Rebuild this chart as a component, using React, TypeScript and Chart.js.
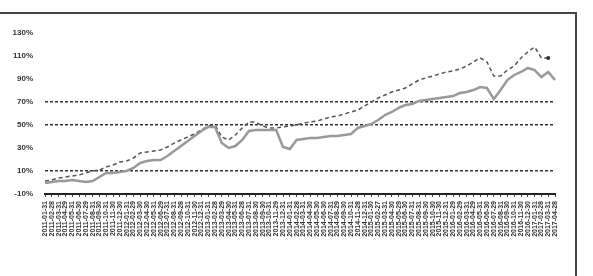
import React, { useEffect, useRef } from "react";
import { Chart, registerables } from "chart.js";

Chart.register(...registerables);

const dates = [
  "2011-01-31","2011-02-28","2011-03-31","2011-04-29","2011-05-31","2011-06-30","2011-07-29","2011-08-31","2011-09-30","2011-10-31","2011-11-30","2011-12-30",
  "2012-01-31","2012-02-29","2012-03-30","2012-04-30","2012-05-31","2012-06-29","2012-07-31","2012-08-31","2012-09-28","2012-10-31","2012-11-30","2012-12-31",
  "2013-01-31","2013-02-28","2013-03-29","2013-04-30","2013-05-31","2013-06-28","2013-07-31","2013-08-30","2013-09-30","2013-10-31","2013-11-29","2013-12-31",
  "2014-01-31","2014-02-28","2014-03-31","2014-04-30","2014-05-30","2014-06-30","2014-07-31","2014-08-29","2014-09-30","2014-10-31","2014-11-28","2014-12-31",
  "2015-01-30","2015-02-27","2015-03-31","2015-04-30","2015-05-29","2015-06-30","2015-07-31","2015-08-31","2015-09-30","2015-10-30","2015-11-30","2015-12-31",
  "2016-01-29","2016-02-29","2016-03-31","2016-04-29","2016-05-31","2016-06-30","2016-07-29","2016-08-31","2016-09-30","2016-10-31","2016-11-30","2016-12-30",
  "2017-01-31","2017-02-28","2017-03-31","2017-04-28"
];

const fundSeries = [
  -0.4, 0.4, 1.3, 1.3, 2.2, 1.3, 0.4, 1.3, 4.8, 8.3, 8.3, 9.1, 10, 12.6, 17, 18.7, 19.6, 19.6, 23, 27.4,
  31.7, 36.1, 40.4, 44.8, 48.3, 48.3, 34.3, 30, 31.7, 37, 44.8, 45.7, 45.7, 45.7, 45.7, 30.9, 29.1, 37, 37.8, 38.7,
  38.7, 39.6, 40.4, 40.4, 41.3, 42.2, 47.4, 49.1, 50.9, 54.3, 58.7, 61.3, 64.8, 67.4, 68.3, 70.9, 71.7, 72.6, 73.5, 74.3,
  75.2, 77.8, 78.7, 80.4, 83, 82.2, 72.6, 80.4, 89.1, 93.5, 96.1, 99.6, 97.8, 91.7, 96.1, 89.1
];

const benchSeries = [
  1.3, 2.2, 3.9, 4.8, 5.7, 6.5, 8.3, 10, 10.9, 13.5, 15.2, 17.8, 18.7, 21.3, 25.7, 26.5, 27.4, 28.3, 30.9, 34.3,
  37, 39.6, 42.2, 45.7, 49.1, 50, 39.6, 37, 41.3, 47.4, 52.6, 52.6, 49.1, 47.4, 47.4, 48.3, 49.1, 50, 51.7, 52.6,
  53.5, 55.2, 57, 57.8, 59.6, 61.3, 63, 66.5, 70, 73.5, 76.1, 78.7, 80.4, 82.2, 85.7, 89.1, 90.9, 92.6, 94.3, 96.1,
  97, 98.7, 101.3, 104.8, 108.3, 104.8, 92.6, 92.6, 97.8, 101.3, 108.3, 113.5, 117.8, 108.3, 108.3, null
];

const yTickValues = [-10, 10, 30, 50, 70, 90, 110, 130];
const dottedGridValues = [10, 50, 70];

export default function App() {
  const ref = useRef<HTMLCanvasElement | null>(null);

  useEffect(() => {
    const canvas = ref.current;
    if (!canvas) return;
    const chart = new Chart(canvas, {
      type: "line",
      data: {
        labels: dates,
        datasets: [
          {
            label: "Fund",
            data: fundSeries,
            borderColor: "#999",
            borderWidth: 2.5,
            pointRadius: 0,
            tension: 0,
          },
          {
            label: "Benchmark",
            data: benchSeries,
            borderColor: "#555",
            borderWidth: 1.5,
            borderDash: [4, 3],
            pointRadius: (c: any) => (c.dataIndex === 74 ? 2 : 0),
            pointBackgroundColor: "#333",
            pointBorderWidth: 0,
            tension: 0,
            spanGaps: false,
          },
        ],
      },
      options: {
        animation: false,
        responsive: false,
        maintainAspectRatio: false,
        layout: { padding: { top: 33, right: 38, left: 0, bottom: 0 } },
        plugins: { legend: { display: false }, tooltip: { enabled: false } },
        scales: {
          y: {
            min: -10,
            max: 130,
            afterBuildTicks: (s: any) => {
              s.ticks = yTickValues.map((v) => ({ value: v }));
            },
            afterFit: (s: any) => {
              s.width = 45;
            },
            border: { display: false, dash: [3, 2] },
            grid: {
              drawTicks: false,
              lineWidth: 1.5,
              color: (c: any) =>
                c.tick && dottedGridValues.includes(c.tick.value) ? "#333" : "transparent",
            },
            ticks: {
              padding: 12,
              color: "#333",
              font: { family: "Liberation Sans", size: 8, weight: "bold" },
              callback: (v: any) => `${v}%`,
            },
          },
          x: {
            afterFit: (s: any) => {
              s.height = 82;
            },
            border: { display: true, color: "#222", width: 2 },
            grid: {
              drawOnChartArea: false,
              drawTicks: true,
              tickLength: 3,
              tickColor: "#444",
            },
            ticks: {
              autoSkip: false,
              maxRotation: 90,
              minRotation: 90,
              padding: 4,
              color: "#333",
              font: { family: "Liberation Sans", size: 7, weight: "bold" },
            },
          },
        },
      },
    });
    return () => chart.destroy();
  }, []);

  return (
    <div style={{ position: "absolute", left: 0, top: 0, width: 593, height: 276, overflow: "hidden", background: "#fff" }}>
      <div
        style={{
          position: "absolute",
          left: -3,
          top: 12,
          width: 580,
          height: 290,
          border: "2px solid #444",
          boxSizing: "border-box",
        }}
      />
      <canvas ref={ref} width={593} height={276} style={{ position: "absolute", left: 0, top: 0 }} />
    </div>
  );
}
